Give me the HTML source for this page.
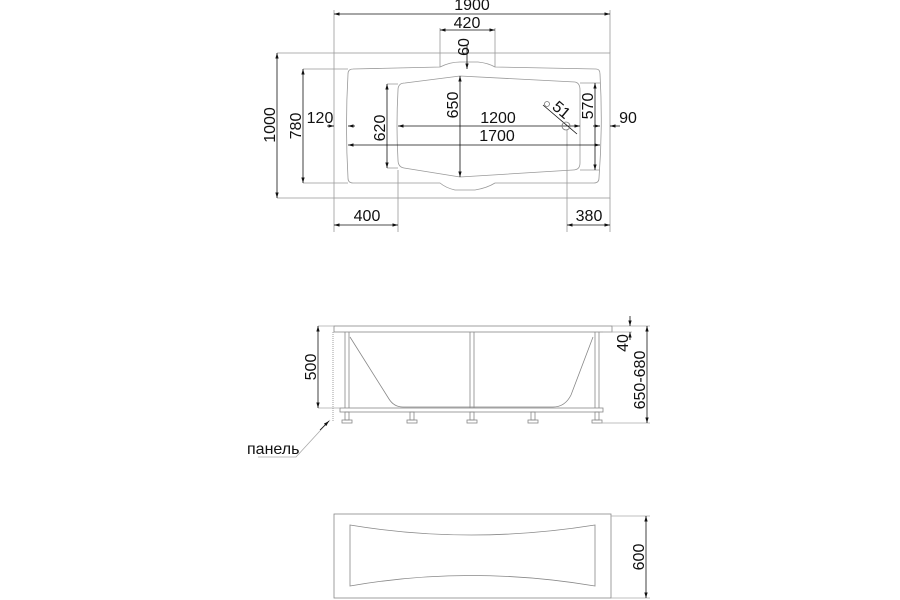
<!DOCTYPE html>
<html><head><meta charset="utf-8"><style>
html,body{margin:0;padding:0;background:#fff}
svg{display:block}
text{font-family:"Liberation Sans","DejaVu Sans",sans-serif;font-size:16px;fill:#111}
</style></head><body>
<svg width="900" height="600" viewBox="0 0 900 600" xmlns="http://www.w3.org/2000/svg">
<defs>
<marker id="a" viewBox="0 0 10 10" refX="10" refY="5" markerWidth="7" markerHeight="7" orient="auto-start-reverse"><path d="M0,2 L10,5 L0,8 z" fill="#111"/></marker>
</defs>
<g fill="none" stroke="#999" stroke-width="0.8">
<rect x="334" y="53" width="276" height="145"/>
<path d="M353,69 L440,67 Q450,62 460,62 L478,62 Q488,63 495,67 L596,69 Q600,69 600,74 Q603,126 599,178 Q599,183 594,183 L495,183 Q487,188 475,190 L455,190 Q446,188 440,183 L353,183 Q348,183 348,178 Q345,126 348,74 Q348,69 353,69 Z"/>
<path d="M405,83 L460,76 L575,82 Q580,83 580,90 L580,163 Q580,170 573,170 L460,177 L404,168 Q398,167 398,160 Q396,126 398,90 Q398,83 405,83 Z"/>
<path d="M334,53 V10 M610,53 V10 M440,67 V28 M495,67 V28 M277,53 H334 M277,198 H334 M303,69 H348 M303,183 H348 M387,84 H398 M387,168 H398 M600,83 H580 M600,170 H580 M334,198 V232 M398,170 V232 M567,130 V232 M610,198 V232"/>
</g>
<g stroke="#111" stroke-width="0.8" fill="none">
<line x1="334" y1="14" x2="610" y2="14" marker-start="url(#a)" marker-end="url(#a)"/>
<line x1="440" y1="30" x2="495" y2="30" marker-start="url(#a)" marker-end="url(#a)"/>
<line x1="467" y1="45" x2="467" y2="69" marker-end="url(#a)"/>
<line x1="277" y1="53" x2="277" y2="198" marker-start="url(#a)" marker-end="url(#a)"/>
<line x1="303" y1="69" x2="303" y2="183" marker-start="url(#a)" marker-end="url(#a)"/>
<line x1="327" y1="126" x2="334" y2="126" marker-end="url(#a)"/>
<line x1="355" y1="126" x2="348" y2="126" marker-end="url(#a)"/>
<line x1="387" y1="84" x2="387" y2="168" marker-start="url(#a)" marker-end="url(#a)"/>
<line x1="460" y1="76" x2="460" y2="177" marker-start="url(#a)" marker-end="url(#a)"/>
<line x1="398" y1="126" x2="580" y2="126" marker-start="url(#a)" marker-end="url(#a)"/>
<line x1="348" y1="145" x2="600" y2="145" marker-start="url(#a)" marker-end="url(#a)"/>
<line x1="595" y1="83" x2="595" y2="170" marker-start="url(#a)" marker-end="url(#a)"/>
<line x1="620" y1="126" x2="610" y2="126" marker-end="url(#a)"/>
<line x1="593" y1="126" x2="600" y2="126" marker-end="url(#a)"/>
<line x1="334" y1="225" x2="398" y2="225" marker-start="url(#a)" marker-end="url(#a)"/>
<line x1="567" y1="225" x2="610" y2="225" marker-start="url(#a)" marker-end="url(#a)"/>
<line x1="543" y1="105" x2="577" y2="134"/>
<circle cx="566" cy="126" r="4" stroke="#777"/>
<circle cx="547" cy="104" r="2.5" stroke="#777"/>
</g>
<text x="472" y="10" text-anchor="middle">1900</text>
<text x="467" y="28" text-anchor="middle">420</text>
<text transform="translate(469,47) rotate(-90)" text-anchor="middle">60</text>
<text transform="translate(275,125) rotate(-90)" text-anchor="middle">1000</text>
<text transform="translate(301,126) rotate(-90)" text-anchor="middle">780</text>
<text x="320" y="123" text-anchor="middle">120</text>
<text transform="translate(385,128) rotate(-90)" text-anchor="middle">620</text>
<text transform="translate(458,105) rotate(-90)" text-anchor="middle">650</text>
<text x="498" y="123" text-anchor="middle">1200</text>
<text x="497" y="141" text-anchor="middle">1700</text>
<text transform="translate(593,106) rotate(-90)" text-anchor="middle">570</text>
<text x="628" y="123" text-anchor="middle">90</text>
<text transform="translate(558,114) rotate(40)" text-anchor="middle">51</text>
<text x="367" y="221" text-anchor="middle">400</text>
<text x="589" y="221" text-anchor="middle">380</text>
<g fill="none" stroke="#888" stroke-width="0.8">
<rect x="334" y="326" width="278" height="6"/>
<rect x="340" y="408" width="263" height="4"/>
<path d="M345,332 V408 M349,332 V408 M470,332 V408 M474,332 V408 M595,332 V408 M599,332 V408"/>
<path d="M350,337 L389,399 Q394,407 403,407 L553,407 Q565,407 571,395 L593,337"/>
<rect x="345" y="412" width="4" height="8"/><rect x="342" y="420" width="10" height="3"/>
<rect x="410" y="412" width="4" height="8"/><rect x="407" y="420" width="10" height="3"/>
<rect x="470" y="412" width="4" height="8"/><rect x="467" y="420" width="10" height="3"/>
<rect x="531" y="412" width="4" height="8"/><rect x="528" y="420" width="10" height="3"/>
<rect x="595" y="412" width="4" height="8"/><rect x="592" y="420" width="10" height="3"/>
<path d="M318,326 H334 M318,408 H340 M612,326 H650 M603,332 H632 M600,423 H650" stroke="#aaa"/>
<path d="M333,332 V422" stroke-dasharray="1,1"/>
<path d="M330,420 L296,457 H258" stroke="#aaa"/>
<rect x="334" y="514" width="277" height="84"/>
<path d="M350,525 Q470,545 595,525 L595,586 Q470,565 350,586 Z"/>
<path d="M611,516 H650 M611,598 H650" stroke="#aaa"/>
</g>
<g stroke="#111" stroke-width="0.8">
<line x1="318" y1="326" x2="318" y2="408" marker-start="url(#a)" marker-end="url(#a)"/>
<line x1="630" y1="316" x2="630" y2="326" marker-end="url(#a)"/>
<line x1="630" y1="340" x2="630" y2="332" marker-end="url(#a)"/>
<line x1="647" y1="326" x2="647" y2="423" marker-start="url(#a)" marker-end="url(#a)"/>
<line x1="320" y1="430" x2="329" y2="421" marker-end="url(#a)"/>
<line x1="646" y1="516" x2="646" y2="598" marker-start="url(#a)" marker-end="url(#a)"/>
</g>
<text transform="translate(316,367) rotate(-90)" text-anchor="middle">500</text>
<text transform="translate(628,343) rotate(-90)" text-anchor="middle">40</text>
<text transform="translate(645,380) rotate(-90)" text-anchor="middle">650-680</text>
<text x="247" y="454">панель</text>
<text transform="translate(644,557) rotate(-90)" text-anchor="middle">600</text>
</svg>
</body></html>
